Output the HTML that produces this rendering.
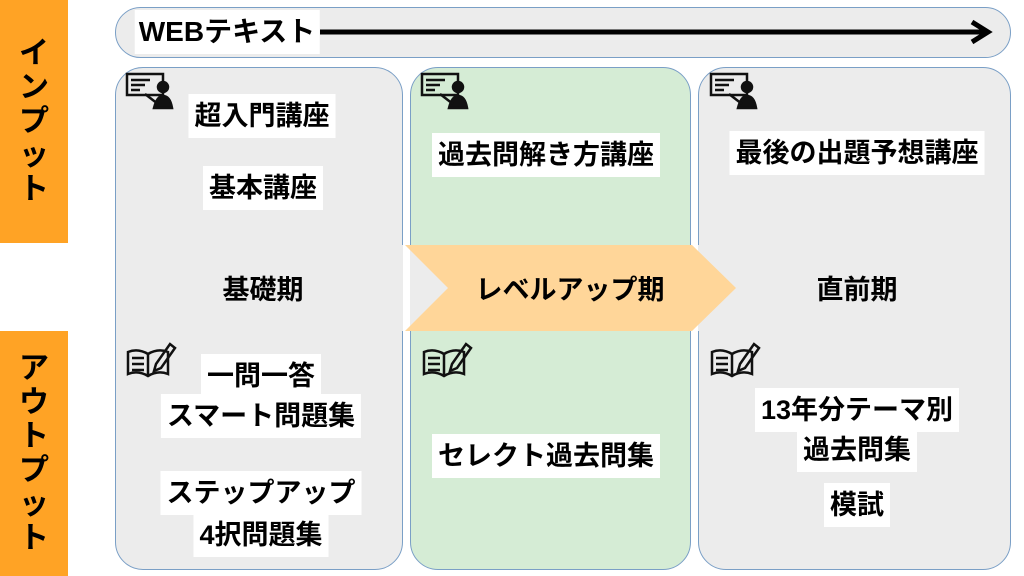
<!DOCTYPE html>
<html><head><meta charset="utf-8"><style>
body{margin:0;width:1024px;height:576px;background:#fff;position:relative;overflow:hidden;font-family:"Liberation Sans","Noto Sans CJK JP",sans-serif;font-weight:bold;}
.a{position:absolute;}
.box{position:absolute;border:1.5px solid #7a9fc6;border-radius:28px;background:#ececec;box-sizing:border-box;}
.t{position:absolute;transform:translate(-50%,-50%);white-space:nowrap;font-size:27px;line-height:40px;background:#fff;padding:2px 6px;color:#000;}
.n{background:transparent;}
.v{position:absolute;background:#ffa325;width:68px;display:flex;flex-direction:column;align-items:center;justify-content:center;font-size:30px;line-height:34px;}
</style></head><body>
<div class="v" style="left:0;top:0;height:243px;">イ<br>ン<br>プ<br>ッ<br>ト</div>
<div class="v" style="left:0;top:331px;height:245px;">ア<br>ウ<br>ト<br>プ<br>ッ<br>ト</div>
<div class="box" style="left:115px;top:7px;width:896px;height:51px;border-radius:26px;"></div>
<div class="t" style="left:227px;top:32px;font-size:28px;background:#fff;padding:2px 4px;">WEBテキスト</div>
<svg class="a" style="left:0;top:0" width="1024" height="576">
<line x1="320" y1="32" x2="985" y2="32" stroke="#000" stroke-width="5"/>
<polyline points="972,22 988,32 972,42" fill="none" stroke="#000" stroke-width="5"/>
</svg>
<div class="box" style="left:115px;top:67px;width:288px;height:503px;"></div>
<div class="box" style="left:410px;top:67px;width:281px;height:503px;background:#d5ecd5;"></div>
<div class="box" style="left:698px;top:67px;width:313px;height:503px;"></div>
<svg class="a" style="left:0;top:0" width="1024" height="576">
<rect x="116" y="245" width="894" height="86" fill="#ececec"/>
<rect x="403" y="245" width="7" height="86" fill="#fff"/>
<rect x="691" y="245" width="7" height="86" fill="#fff"/>
<polygon points="405,245 692,245 736,288 692,331 405,331 448,288" fill="#ffd699"/>
<g id="ic1" fill="none" stroke="#111" stroke-width="2.5">
<rect x="127" y="74" width="36" height="21"/><line x1="131" y1="80" x2="150" y2="80"/><line x1="131" y1="85" x2="145" y2="85"/><line x1="131" y1="90" x2="140" y2="90"/>
<circle cx="163" cy="87" r="5" fill="#111"/><path d="M154 108 q3-12 9-12 q7 0 9 12z" fill="#111"/><line x1="145" y1="94" x2="158" y2="104"/>
</g>
<use href="#ic1" x="295"/><use href="#ic1" x="584"/>
<g id="ic2" fill="none" stroke="#111" stroke-width="2.5">
<path d="M128 352 q10-4 20 2 q10-6 20-2 v22 q-10-4-20 2 q-10-6-20-2z"/><line x1="148" y1="354" x2="148" y2="376"/>
<line x1="132" y1="358" x2="144" y2="358"/><line x1="132" y1="364" x2="144" y2="364"/><line x1="132" y1="370" x2="144" y2="370"/>
<path d="M156 364 l14-20 l5 4 l-14 20 l-7 3z"/>
</g>
<use href="#ic2" x="296"/><use href="#ic2" x="584"/>
</svg>
<div class="t" style="left:262px;top:116px;">超入門講座</div>
<div class="t" style="left:263px;top:188px;">基本講座</div>
<div class="t n" style="left:263px;top:290px;">基礎期</div>
<div class="t" style="left:546px;top:155px;">過去問解き方講座</div>
<div class="t n" style="left:570px;top:290px;">レベルアップ期</div>
<div class="t" style="left:857px;top:153px;">最後の出題予想講座</div>
<div class="t n" style="left:857px;top:290px;">直前期</div>
<div class="t" style="left:261px;top:376px;">一問一答</div>
<div class="t" style="left:261px;top:416px;">スマート問題集</div>
<div class="t" style="left:261px;top:493px;">ステップアップ</div>
<div class="t" style="left:261px;top:535px;">4択問題集</div>
<div class="t" style="left:546px;top:456px;">セレクト過去問集</div>
<div class="t" style="left:857px;top:410px;">13年分テーマ別</div>
<div class="t" style="left:857px;top:450px;">過去問集</div>
<div class="t" style="left:857px;top:505px;">模試</div>
</body></html>
